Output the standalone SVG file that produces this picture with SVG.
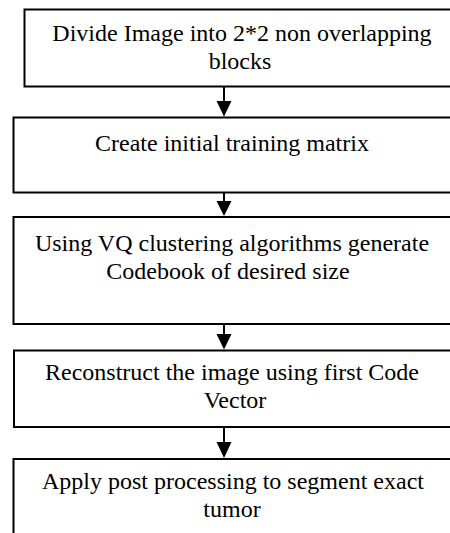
<svg xmlns="http://www.w3.org/2000/svg" width="450" height="533" viewBox="0 0 450 533">
<style>
.box{fill:#fff;stroke:#000;stroke-width:2}
.t{font-family:"Liberation Serif","Times New Roman",serif;font-size:24px;fill:#000;text-anchor:middle}
.ln{stroke:#000;stroke-width:2;fill:none}
.hd{fill:#000}
</style>
<rect width="450" height="533" fill="#fff"/>
<g id="n1"><rect class="box" x="24.5" y="9.5" width="440" height="77"/>
<text class="t" x="242" y="41">Divide Image into 2*2 non overlapping</text>
<text class="t" x="240" y="69">blocks</text></g>
<g id="n2"><rect class="box" x="13.5" y="117.5" width="450" height="75"/>
<text class="t" x="232" y="151">Create initial training matrix</text></g>
<g id="n3"><rect class="box" x="13.5" y="217" width="450" height="107"/>
<text class="t" x="232" y="251">Using VQ clustering algorithms generate</text>
<text class="t" x="228" y="279">Codebook of desired size</text></g>
<g id="n4"><rect class="box" x="14" y="350.5" width="450" height="76.5"/>
<text class="t" x="232" y="380">Reconstruct the image using first Code</text>
<text class="t" x="235" y="408">Vector</text></g>
<g id="n5"><rect class="box" x="13.5" y="459" width="450" height="90"/>
<text class="t" x="233" y="489">Apply post processing to segment exact</text>
<text class="t" x="232" y="517">tumor</text></g>
<g id="connectors">
<line class="ln" x1="224" y1="87" x2="224" y2="102"/>
<polygon class="hd" points="216.5,101 231.5,101 224,116.5"/>
<line class="ln" x1="224" y1="193" x2="224" y2="202"/>
<polygon class="hd" points="216.5,201 231.5,201 224,216"/>
<line class="ln" x1="224" y1="324" x2="224" y2="335"/>
<polygon class="hd" points="216.5,334 231.5,334 224,349.5"/>
<line class="ln" x1="224" y1="427" x2="224" y2="443"/>
<polygon class="hd" points="216.5,442 231.5,442 224,458"/>
</g>
</svg>
